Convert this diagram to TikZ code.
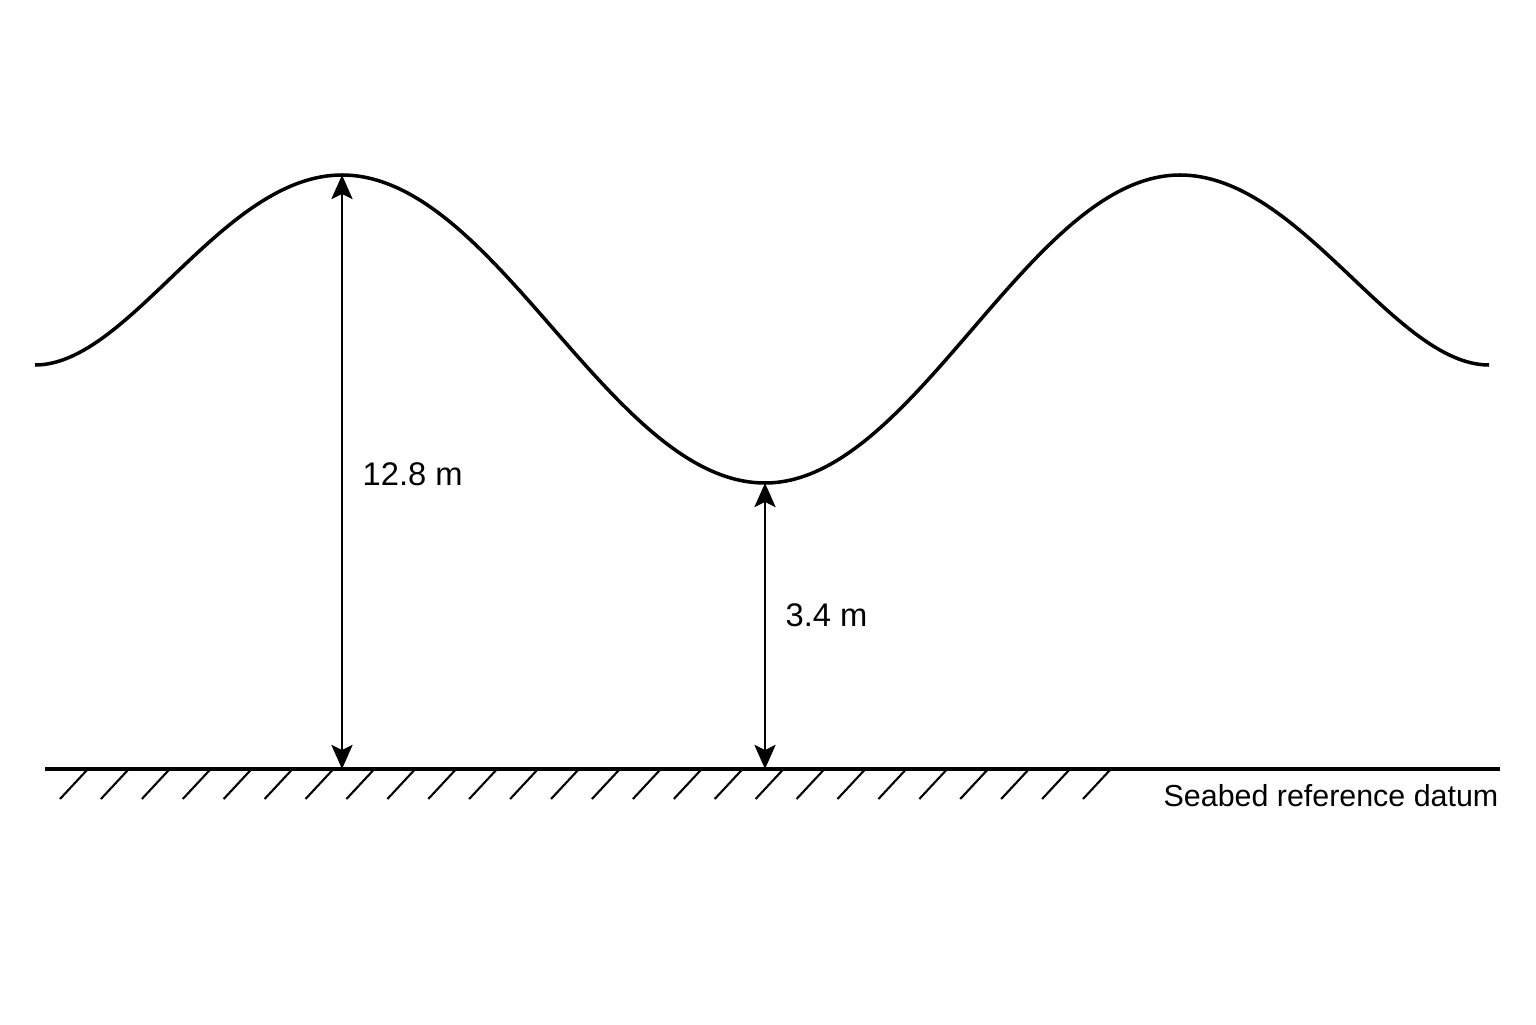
\documentclass[tikz,border=0pt]{standalone}
\usepackage{fontspec}
\setmainfont{Liberation Sans}
\usetikzlibrary{arrows.meta}

\tikzset{
	wave/.style = {line width = 1pt},
	dim/.style = {line width = 0.8pt, {Stealth[length = 2.4mm, width = 2.1mm, inset = 0.5mm]}-{Stealth[length = 2.4mm, width = 2.1mm, inset = 0.5mm]}},
	hatch/.style = {line width = 0.6pt},
	dimlabel/.style = {anchor = west, inner sep = 0pt, font = \fontsize{9.3}{11}\selectfont}
}

\begin{document}
\begin{tikzpicture}
		\useasboundingbox (0, 0) rectangle (15.36, 10.24);
		
		\def\datum{2.55}
		\def\crest{8.49}
		\def\trough{5.41}
		\def\rest{6.59}
		
		\coordinate (wave left) at (0.35, \rest);
		\coordinate (crest one) at (3.42, \crest);
		\coordinate (trough) at (7.65, \trough);
		\coordinate (crest two) at (11.80, \crest);
		\coordinate (wave right) at (14.89, \rest);
		
		\coordinate (datum left) at (0.45, \datum);
		\coordinate (datum right) at (15.00, \datum);
		\coordinate (crest foot) at (3.42, \datum);
		\coordinate (trough foot) at (7.65, \datum);
		
		% sea surface
		\draw [wave] (wave left) .. controls +(0.95, 0) and +(-1.2, 0) .. (crest one)
			.. controls +(1.54, 0) and +(-1.54, 0) .. (trough)
			.. controls +(1.5, 0) and +(-1.5, 0) .. (crest two)
			.. controls +(1.2, 0) and +(-0.95, 0) .. (wave right);
		
		% seabed
		\draw [wave] (datum left) -- (datum right);
		\foreach \i in {0, ..., 25}
			\draw [hatch] ({0.60 + 0.4092*\i}, 2.25) -- ++(0.27, 0.29);
		\node [anchor = east, inner sep = 0pt, font = \fontsize{8.65}{11}\selectfont] (datum label) at (14.99, 2.28) {Seabed reference datum};
		
		% depths
		\draw [dim] (crest one) -- (crest foot);
		\draw [dim] (trough) -- (trough foot);
		\node [dimlabel] (crest depth) at (3.62, 5.50) {12.8 m};
		\node [dimlabel] (trough depth) at (7.85, 4.085) {3.4 m};
	\end{tikzpicture}
\end{document}
